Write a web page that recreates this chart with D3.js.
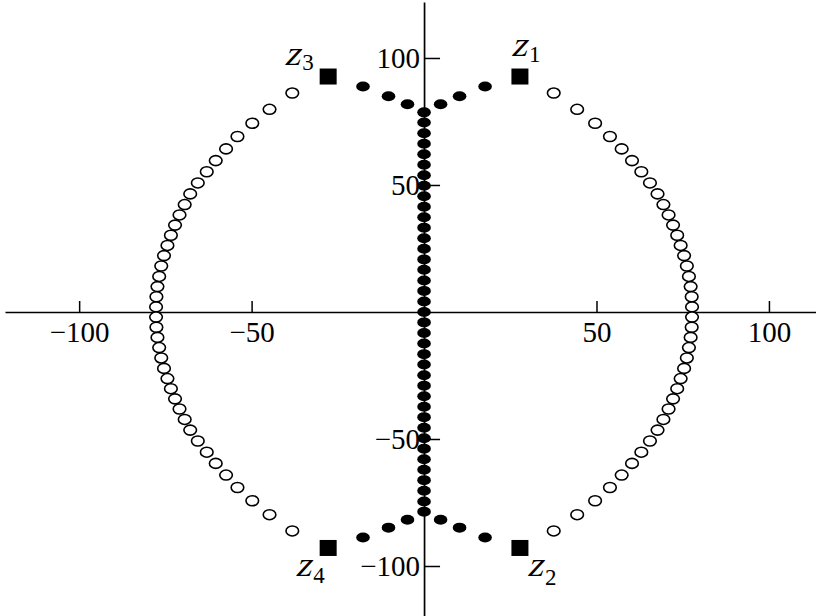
<!DOCTYPE html>
<html>
<head>
<meta charset="utf-8">
<script src="https://cdn.jsdelivr.net/npm/d3@7"></script>
<style>
  body { margin: 0; background: #fff; }
  svg { display: block; }
  .tick text { font-family: "Liberation Serif", "Times New Roman", serif; font-size: 29px; fill: #000; }
  .zlab { font-family: "Liberation Serif", "Times New Roman", serif; fill: #000; }
</style>
</head>
<body>
<script>
// tick values
var xTicks = [-100, -50, 50, 100];
var yTicks = [-100, -50, 50, 100];

// open circles (the two arcs), read top to bottom
var ringY = [86.2, 79.8, 74.3, 69.1, 64.2, 59.6, 55.2, 50.8, 46.5, 42.3,
             38.2, 34.2, 30.2, 26.2, 22.2, 18.1, 14.0, 10.0, 6.0, 2.0,
             -2.0, -6.0, -10.0, -14.0, -18.1, -22.2, -26.2, -30.2, -34.2, -38.2,
             -42.3, -46.5, -50.8, -55.2, -59.6, -64.2, -69.1, -74.3, -79.8, -86.2];
var ringLeftX = [-38.2, -44.8, -49.8, -54.1, -57.4, -60.4, -63.0, -65.6, -67.8, -69.4,
                 -70.9, -72.2, -73.4, -74.4, -75.4, -76.2, -76.8, -77.3, -77.6, -77.7,
                 -77.7, -77.6, -77.3, -76.8, -76.2, -75.4, -74.4, -73.4, -72.2, -70.9,
                 -69.4, -67.8, -65.6, -63.0, -60.4, -57.4, -54.1, -49.8, -44.8, -38.2];
var ringRightX = [37.6, 44.4, 49.6, 53.9, 57.3, 60.3, 63.0, 65.5, 67.7, 69.4,
                  70.9, 72.2, 73.4, 74.4, 75.4, 76.2, 76.8, 77.3, 77.6, 77.7,
                  77.7, 77.6, 77.3, 76.8, 76.2, 75.4, 74.4, 73.4, 72.2, 70.9,
                  69.4, 67.7, 65.5, 63.0, 60.3, 57.3, 53.9, 49.6, 44.4, 37.6];

// filled dots on the imaginary axis
var axisDotY = [78.6, 74.6, 70.4, 66.2, 62.1, 58.0, 53.8, 49.7, 45.6, 41.4,
                37.3, 33.2, 29.0, 24.9, 20.7, 16.6, 12.4, 8.3, 4.1, 0,
                -4.1, -8.3, -12.4, -16.6, -20.7, -24.9, -29.0, -33.2, -37.3, -41.4,
                -45.6, -49.7, -53.8, -58.0, -62.1, -66.2, -70.4, -74.6, -78.6];

// filled dots branching toward the squares
var branchX = [-17.7, -10.3, -4.8, 4.8, 10.3, 17.7, -17.7, -10.3, -4.8, 4.8, 10.3, 17.7];
var branchY = [88.8, 84.9, 81.8, 81.8, 84.9, 88.8, -88.8, -84.9, -81.8, -81.8, -84.9, -88.8];

// squares z1..z4
var sqName = ["1", "2", "3", "4"];
var sqX = [27.8, 27.8, -27.8, -27.8];
var sqY = [92.7, -92.9, 92.7, -92.9];

var width = 823, height = 616;

var x = d3.scaleLinear().domain([-121.5, 113.5]).range([5, 815.5]);
var y = d3.scaleLinear().domain([-120, 122]).range([616.8, 2.1]);

var svg = d3.select("body").append("svg")
    .attr("width", width)
    .attr("height", height);

svg.append("rect").attr("width", width).attr("height", height).attr("fill", "#fff");

// x axis: ticks point up, labels below
var gx = svg.append("g")
    .attr("transform", "translate(0," + y(0) + ")")
    .call(d3.axisBottom(x).tickValues(xTicks).tickSize(-11).tickSizeOuter(0).tickPadding(9));

// y axis: ticks point right, labels left
var gy = svg.append("g")
    .attr("transform", "translate(" + x(0) + ",0)")
    .call(d3.axisLeft(y).tickValues(yTicks).tickSize(-16).tickSizeOuter(0).tickPadding(4));

[gx, gy].forEach(function (g) {
    g.select(".domain").attr("stroke", "#000").attr("stroke-width", 1.7);
    g.selectAll(".tick line").attr("stroke", "#000").attr("stroke-width", 1.5);
    g.attr("font-family", null).attr("font-size", null);
});

// open circles
var ring = ringY.map(function (v, i) { return { x: ringLeftX[i], y: v }; })
    .concat(ringY.map(function (v, i) { return { x: ringRightX[i], y: v }; }));

svg.append("g").selectAll("ellipse")
    .data(ring)
    .enter().append("ellipse")
    .attr("cx", function (d) { return x(d.x); })
    .attr("cy", function (d) { return y(d.y); })
    .attr("rx", 6.3)
    .attr("ry", 5.0)
    .attr("fill", "#fff")
    .attr("stroke", "#000")
    .attr("stroke-width", 1.6);

// filled dots
var dots = axisDotY.map(function (v) { return { x: 0, y: v }; })
    .concat(branchX.map(function (v, i) { return { x: v, y: branchY[i] }; }));

svg.append("g").selectAll("ellipse")
    .data(dots)
    .enter().append("ellipse")
    .attr("cx", function (d) { return x(d.x); })
    .attr("cy", function (d) { return y(d.y); })
    .attr("rx", 6.8)
    .attr("ry", 5.0)
    .attr("fill", "#000");

// squares
var sq = sqName.map(function (n, i) { return { name: n, x: sqX[i], y: sqY[i] }; });

svg.append("g").selectAll("rect")
    .data(sq)
    .enter().append("rect")
    .attr("x", function (d) { return x(d.x) - 8.5; })
    .attr("y", function (d) { return y(d.y) - 8; })
    .attr("width", 17)
    .attr("height", 16)
    .attr("fill", "#000");

// z labels, offsets in pixels from the square
var labOff = { "1": [-9, -21, 6], "2": [7, 28, 9], "3": [-44, -12, 5], "4": [-33, 28, 7] };

var lab = svg.append("g").selectAll("g")
    .data(sq)
    .enter().append("g")
    .attr("transform", function (d) {
        return "translate(" + (x(d.x) + labOff[d.name][0]) + "," + (y(d.y) + labOff[d.name][1]) + ")";
    });

// italic face may be missing, so slant the z by hand
lab.append("text")
    .attr("class", "zlab")
    .attr("transform", "skewX(-16)")
    .style("font-size", "35px")
    .text("z");

lab.append("text")
    .attr("class", "zlab")
    .style("font-size", "23px")
    .attr("x", 18)
    .attr("y", function (d) { return labOff[d.name][2]; })
    .text(function (d) { return d.name; });
</script>
</body>
</html>
